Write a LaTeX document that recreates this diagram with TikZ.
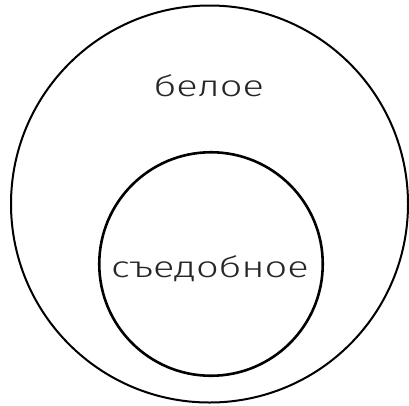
\documentclass[tikz,border=0pt]{standalone}
\usepackage{fontspec}
\setmainfont{Fira Sans Light}[FakeStretch=1.35]
\begin{document}
\begin{tikzpicture}[x=1pt,y=-1pt,
  ring/.style={draw=black,circle,inner sep=0pt},
  lbl/.style={inner sep=0pt,anchor=base,font=\fontsize{29.5}{34}\selectfont,text=black!85}]
\useasboundingbox (0,0) rectangle (409,405);
\node[ring,line width=2pt,minimum size=397pt] (outer) at (209.5,204) {};
\node[ring,line width=2.6pt,minimum size=223.5pt] (inner) at (211,264) {};
\node[lbl] (white) at (209,96) {белое};
\node[lbl] (edible) at (210,277) {съедобное};
\end{tikzpicture}
\end{document}
